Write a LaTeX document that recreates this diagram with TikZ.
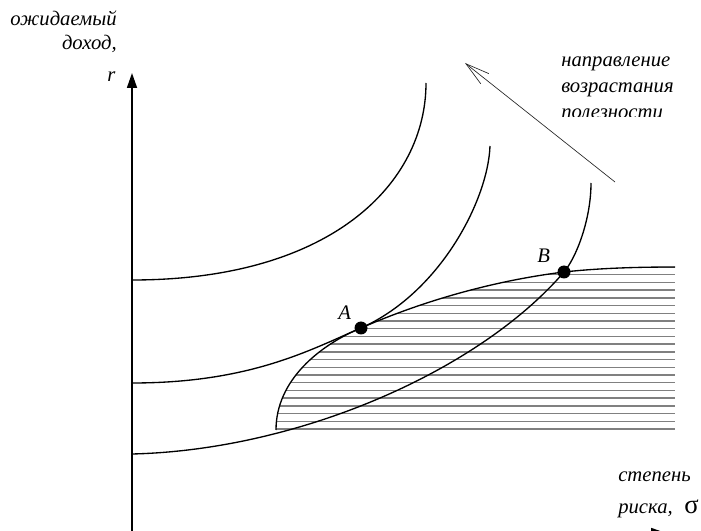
\documentclass[tikz,border=0pt]{standalone}
\usepackage{fontspec}
\setmainfont{Liberation Serif}
\usetikzlibrary{arrows.meta}
\begin{document}
\begin{tikzpicture}[x=0.75pt,y=-0.75pt,
  lbl/.style={font=\fontsize{15.5}{19}\selectfont\itshape, inner sep=0pt},
  curve/.style={line width=1pt},
  axis/.style={line width=1.3pt,-{Triangle[length=11.25pt,width=7.5pt]}},
  dot/.style={circle,fill=black,minimum size=9.75pt,inner sep=0pt},
  hatch/.style={black!50,line width=1.1pt}]
\useasboundingbox (0,0) rectangle (701,531);
\clip (0,0) rectangle (701,531);

% hatched feasible region
\begin{scope}
  \clip (276,432) -- (276,430) .. controls (276,380) and (320,345) .. (361,328)
        .. controls (430,298) and (500,280) .. (564,272)
        .. controls (600,268) and (640,267) .. (675,267) -- (675,432) -- cycle;
  \foreach \k in {0,...,21}
    \draw[hatch] (270,{429-\k*7.714}) -- (675,{429-\k*7.714});
\end{scope}

% axes
\coordinate (ybot) at (132,545);
\coordinate (ytop) at (132,73);
\draw[axis] (ybot) -- (ytop);
\coordinate (xl) at (132,533);
\coordinate (xr) at (666,533);
\draw[axis] (xl) -- (xr);

% points
\coordinate (Ap) at (361,328);
\coordinate (Bp) at (564,272);

% indifference curves
\draw[curve] (132,280) .. controls (332,280) and (426,183) .. (426,83);
\draw[curve] (132,383) .. controls (250,383) and (310,350) .. (Ap)
   .. controls (440,293) and (488,200) .. (490,146);
\draw[curve] (132,454) .. controls (300,450) and (480,370) .. (Bp)
   .. controls (576,258) and (591,220) .. (591,183);

% boundary of feasible set
\draw[curve] (276,430) .. controls (276,380) and (320,345) .. (Ap)
   .. controls (430,298) and (500,280) .. (Bp)
   .. controls (600,268) and (640,267) .. (675,267);

\node[dot] (A) at (Ap) {};
\node[dot] (B) at (Bp) {};
\node[lbl,anchor=base west] (Alab) at (338,320) {A};
\node[lbl,anchor=base west] (Blab) at (537,263) {B};

% utility direction arrow
\coordinate (ua) at (615,182);
\coordinate (ub) at (465,63);
\draw[black!85,line width=0.5pt,-{Straight Barb[length=18pt,width=9.75pt]}] (ua) -- (ub);

% labels
\node[lbl,anchor=base east] (t1) at (117,26) {ожидаемый};
\node[lbl,anchor=base east] (t2) at (117,50) {доход,};
\node[lbl,anchor=base west] (rlab) at (107,82) {r};

\node[lbl,anchor=base west] (u1) at (561,67) {направление};
\node[lbl,anchor=base west] (u2) at (561,93) {возрастания};
\begin{scope}
  \clip (540,100) rectangle (701,116.5);
  \node[lbl,anchor=base west] (u3) at (561,119) {полезности};
\end{scope}

\node[lbl,anchor=base west] (s1) at (618,482) {степень};
\node[lbl,anchor=base west] (s2) at (618,513) {риска,};
\node[font=\fontsize{20}{24}\selectfont,inner sep=0pt,anchor=base west] (sig) at (684,513) {σ};
\end{tikzpicture}
\end{document}
